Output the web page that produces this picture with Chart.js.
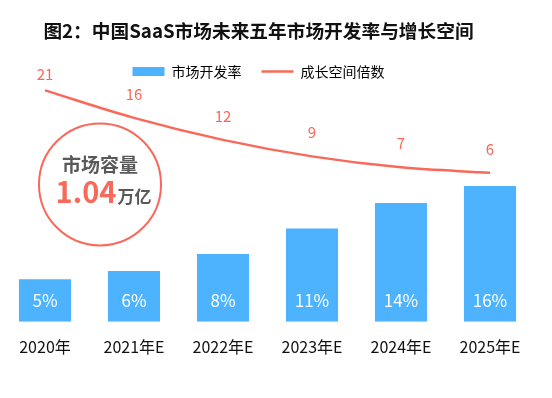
<!DOCTYPE html>
<html lang="zh-CN">
<head>
  <meta charset="UTF-8" />
  <title>中国SaaS市场未来五年市场开发率与增长空间</title>
  <script src="https://cdn.jsdelivr.net/npm/chart.js"></script>
  <style>
    body {
      margin: 0;
      background: #fff;
    }
    .wrap {
      width: 552px;
      height: 398px;
    }
  </style>
</head>
<body>
  <div class="wrap">
    <canvas id="chart" width="552" height="398"></canvas>
  </div>

  <script>
    // data
    const years = ["2020年", "2021年E", "2022年E", "2023年E", "2024年E", "2025年E"];
    const devRate = [5, 6, 8, 11, 14, 16];        // 市场开发率 (%)
    const growthTimes = [21, 16, 12, 9, 7, 6];    // 成长空间倍数

    const BLUE = "#4db3ff";
    const RED = "#f8695a";
    const FONT = "'Noto Sans CJK SC', 'Noto Sans', sans-serif";

    // labels on bars / points + the 市场容量 circle
    const labelPlugin = {
      id: "labels",
      afterDatasetsDraw(chart) {
        const ctx = chart.ctx;
        const area = chart.chartArea;
        ctx.save();
        ctx.textAlign = "center";
        ctx.textBaseline = "middle";

        // bar values
        ctx.font = "17px " + FONT;
        ctx.fillStyle = "#fff";
        chart.getDatasetMeta(0).data.forEach((bar, i) => {
          ctx.fillText(devRate[i] + "%", bar.x, bar.base - 21);
        });

        // line values
        ctx.font = "15px " + FONT;
        ctx.fillStyle = RED;
        chart.getDatasetMeta(1).data.forEach((pt, i) => {
          const y = Math.max(pt.y - 24, area.top - 14);
          ctx.fillText(growthTimes[i], pt.x, y);
        });

        // circle
        const cx = area.left + 100, cy = area.top + 96;
        ctx.beginPath();
        ctx.arc(cx, cy, 61, 0, Math.PI * 2);
        ctx.strokeStyle = RED;
        ctx.lineWidth = 2;
        ctx.stroke();

        ctx.font = "bold 19px " + FONT;
        ctx.fillStyle = "#595959";
        ctx.fillText("市场容量", cx, cy - 20);

        ctx.textBaseline = "alphabetic";
        ctx.textAlign = "left";
        ctx.font = "bold 29px " + FONT;
        const w1 = ctx.measureText("1.04").width;
        ctx.font = "bold 17px " + FONT;
        const w2 = ctx.measureText("万亿").width;
        let x = cx + 3 - (w1 + w2) / 2;
        ctx.font = "bold 29px " + FONT;
        ctx.fillStyle = RED;
        ctx.fillText("1.04", x, cy + 19);
        ctx.font = "bold 17px " + FONT;
        ctx.fillStyle = "#595959";
        ctx.fillText("万亿", x + w1 + 1, cy + 19);
        ctx.restore();
      }
    };

    new Chart(document.getElementById("chart"), {
      type: "bar",
      data: {
        datasets: [
          {
            type: "bar",
            label: "市场开发率",
            data: devRate.map((v, i) => ({ x: i, y: v })),
            backgroundColor: BLUE,
            barPercentage: 0.585,
            categoryPercentage: 1,
            yAxisID: "y",
            order: 2
          },
          {
            type: "line",
            label: "成长空间倍数",
            data: growthTimes.map((v, i) => ({ x: i, y: v })),
            borderColor: RED,
            borderWidth: 2.5,
            pointRadius: 0,
            tension: 0.35,
            fill: false,
            clip: false,
            yAxisID: "y1",
            order: 1
          }
        ]
      },
      options: {
        responsive: false,
        animation: false,
        layout: { padding: { left: 0, right: 35, top: 0, bottom: 33 } },
        scales: {
          x: {
            type: "linear",
            offset: false,
            min: -0.5056,
            max: 5.3034,
            grid: { display: false },
            border: { display: false },
            afterBuildTicks: s => { s.ticks = years.map((y, i) => ({ value: i })); },
            ticks: {
              autoSkip: false,
              maxRotation: 0,
              padding: 8,
              color: "#111",
              font: { family: FONT, size: 16 },
              callback: v => years[v]
            }
          },
          y: {
            display: false,
            min: 0,
            max: 27.5
          },
          y1: {
            display: false,
            min: -21.1,
            max: 21.36
          }
        },
        plugins: {
          title: {
            display: true,
            text: "图2：中国SaaS市场未来五年市场开发率与增长空间",
            color: "#111",
            font: { family: FONT, size: 18.7, weight: "bold" },
            padding: { top: 20, bottom: 2 }
          },
          legend: {
            labels: {
              usePointStyle: true,
              pointStyleWidth: 32,
              boxHeight: 9,
              padding: 20,
              color: "#222",
              font: { family: FONT, size: 14 },
              generateLabels: () => [
                { text: "市场开发率", fillStyle: BLUE, strokeStyle: BLUE, lineWidth: 0, pointStyle: "rect", datasetIndex: 0 },
                { text: "成长空间倍数", fillStyle: RED, strokeStyle: RED, lineWidth: 2.5, pointStyle: "line", datasetIndex: 1 }
              ]
            }
          },
          tooltip: { enabled: false }
        }
      },
      plugins: [labelPlugin]
    });
  </script>
</body>
</html>
